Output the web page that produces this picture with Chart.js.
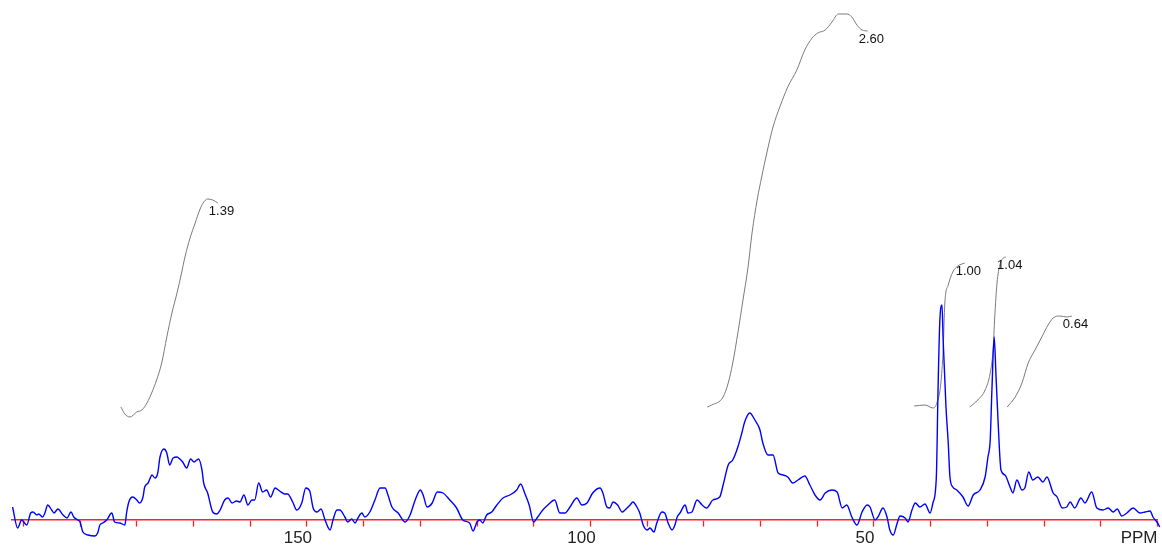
<!DOCTYPE html>
<html>
<head>
<meta charset="utf-8">
<script src="https://cdn.jsdelivr.net/npm/chart.js@4.4.1/dist/chart.umd.min.js"></script>
<style>
  html, body { margin: 0; padding: 0; background: #fff; }
  #wrap { width: 1162px; height: 551px; }
</style>
</head>
<body>
<div id="wrap"><canvas id="nmr" width="1162" height="551"></canvas></div>
<script>
// spectrum (ppm / intensity, baseline = 0)
var specPpm = [201.9,201.0,200.3,199.4,198.7,198.3,197.6,197.3,196.6,196.2,195.7,195.0,194.6,193.9,193.0,192.3,191.6,191.1,190.4,190.0,
  189.5,188.6,187.4,186.9,186.5,186.0,185.3,184.4,183.9,183.0,182.1,181.8,181.4,180.7,180.0,179.5,178.9,178.6,178.0,177.3,
  176.8,176.3,175.9,175.2,174.7,174.2,173.6,172.9,172.4,171.9,171.2,170.5,169.9,169.4,169.1,168.5,168.2,167.5,166.6,165.9,
  165.3,164.5,163.9,163.2,162.4,161.8,161.1,160.4,159.7,159.2,158.5,157.8,157.1,156.4,155.6,154.8,153.9,153.4,152.5,151.8,
  150.9,150.2,149.5,148.9,148.2,147.5,146.8,146.3,145.9,145.4,144.7,144.2,143.3,142.8,142.1,141.5,141.0,140.3,139.8,138.9,
  138.0,137.1,136.2,135.7,135.0,133.9,132.7,131.8,130.9,130.0,129.5,128.8,127.9,127.0,126.0,124.8,123.6,122.5,121.3,120.7,
  120.0,119.5,119.0,118.3,117.4,116.5,115.4,114.2,113.0,112.3,111.6,110.8,110.0,109.3,108.4,107.5,106.3,105.4,104.5,103.6,
  102.4,101.5,100.6,99.6,98.3,97.8,97.1,96.6,96.0,95.2,94.4,93.9,93.0,92.5,91.8,91.3,90.7,90.0,89.5,88.8,
  88.3,87.4,86.9,86.3,85.6,85.1,84.7,84.2,83.3,82.8,82.1,81.2,80.3,79.5,78.4,77.2,76.6,75.7,74.9,74.0,
  73.3,72.8,71.9,71.0,70.1,69.6,68.7,67.8,66.9,66.0,65.2,64.3,63.4,62.2,61.3,60.4,59.5,58.6,57.4,56.5,
  55.6,54.8,53.9,53.0,52.1,51.2,50.7,49.8,49.3,48.4,47.7,47.2,46.6,45.9,45.4,44.5,44.0,43.3,42.7,41.9,
  41.0,40.1,39.6,39.0,38.7,38.4,38.0,37.8,37.3,36.9,36.6,36.1,35.4,34.3,33.4,32.5,31.3,30.4,29.9,29.5,
  29.2,28.8,28.5,28.1,27.6,26.9,26.0,25.5,24.8,23.9,23.4,22.7,22.0,21.1,20.2,19.5,18.4,17.7,16.8,16.0,
  15.4,14.6,13.5,12.8,11.6,10.7,9.6,8.7,7.8,7.1,6.3,5.4,4.3,3.1,2.2,1.3,0.8,0.1,-0.4];
var specInt = [13,-8,0,-5,7,8,5,6,3,7,15,10,7,11,5,2,8,3,0,-2,
  -12,-15,-16,-13,-5,-3,0,7,-2,-3,-5,7,18,23,20,17,23,33,37,45,
  42,47,63,71,67,55,62,63,61,58,52,61,58,60,61,50,37,27,8,6,
  10,20,22,17,19,18,25,15,20,20,37,28,30,23,32,29,26,26,18,10,
  17,32,29,12,8,11,0,-7,-10,0,10,10,3,-2,1,-3,2,7,3,8,
  20,32,32,25,13,7,-2,5,20,30,25,13,17,28,27,20,12,0,-3,-11,
  -2,0,-3,5,8,15,22,25,30,36,27,15,-2,3,10,15,20,7,7,13,
  22,15,17,27,32,27,13,12,18,15,8,10,15,18,13,7,-5,-10,-8,-12,
  -3,8,7,-3,-10,-5,3,7,15,7,8,20,15,12,20,23,35,55,60,73,
  87,98,107,100,90,77,65,65,47,45,43,37,40,44,35,25,20,27,30,28,
  12,15,3,-5,8,15,13,0,3,12,3,-10,-15,-3,4,2,-2,10,17,13,
  16,7,17,43,130,197,215,180,113,77,43,33,30,23,14,25,30,43,63,80,
  130,183,147,97,50,45,33,27,40,30,32,48,40,43,38,43,27,23,12,13,
  18,12,22,17,28,12,10,12,8,11,4,7,12,7,8,9,3,-2,-7];

// integral traces
var int1Ppm = [182.8,182.1,181.2,180.0,179.1,178.2,177.3,176.5,175.6,174.7,173.8,172.9,172.1,171.5,170.6,169.7,168.9,168.3,167.5,166.6,165.7];
var int1Val = [113,106,103,108,110,117,128,140,157,183,207,227,247,263,282,297,310,317,321,320,317];
var int2Ppm = [79.4,78.6,76.6,75.7,74.9,74.0,73.1,72.2,71.5,70.6,69.8,68.9,67.8,66.6,65.2,63.6,62.2,60.9,59.9,58.6,57.4,56.3,54.8,53.9,53.0,52.1,51.1];
var int2Val = [113,115,123,137,157,187,220,253,287,320,343,367,393,413,433,450,470,482,487,490,498,506,506,503,495,490,489];
var int3Ppm = [42.9,41.0,39.6,38.9,38.2,37.8,37.5,36.9,36.1,35.2,34.0];
var int3Val = [114,115,112,117,137,170,217,235,248,254,257];
var int4Ppm = [33.1,31.7,30.4,29.5,29.0,28.7,28.3,27.8,27.2,26.7];
var int4Val = [113,120,130,147,170,203,237,255,262,263];
var int5Ppm = [26.5,25.1,23.9,22.8,21.6,20.4,19.3,18.4,17.2,16.0,15.1];
var int5Val = [113,123,137,157,170,183,195,202,204,203,204];
var integralLabels = ['1.39','2.60','1.00','1.04','0.64'];

// axis
var tickValues = [0,10,20,30,40,50,60,70,80,90,100,110,120,130,140,150,160,170,180,190,200];
var labeledTicks = [50,100,150];
var axisUnit = 'PPM';

function toPoints(xs, ys){
	var pts = [];
	for(let i=0;i<xs.length;i++){
		pts.push({x: xs[i], y: ys[i]});
	}
	return pts;
}

function integralSet(xs, ys, label){
	return {
		data: toPoints(xs, ys),
		borderColor: '#7a7a7a',
		borderWidth: 1,
		pointRadius: 0,
		cubicInterpolationMode: 'monotone',
		integralLabel: label
	};
}

const labelPlugin = {
	id: 'nmrLabels',
	afterDatasetsDraw(chart){
		const ctx = chart.ctx;
		ctx.save();
		ctx.fillStyle = '#111';
		ctx.textBaseline = 'middle';
		ctx.textAlign = 'left';
		ctx.font = '13px "Liberation Sans", Arial, sans-serif';
		chart.data.datasets.forEach(function(ds, i){
			if(!ds.integralLabel) return;
			const pts = chart.getDatasetMeta(i).data;
			const last = pts[pts.length-1];
			ctx.fillText(ds.integralLabel, last.x - 9, last.y + 8.5);
		});
		// unit at the end of the axis
		const xs = chart.scales.x;
		const y0 = chart.scales.y.getPixelForValue(0);
		ctx.font = '17px "Liberation Sans", Arial, sans-serif';
		ctx.textAlign = 'right';
		ctx.fillStyle = '#222';
		ctx.fillText(axisUnit, xs.right, y0 + 18);
		ctx.restore();
	}
};

var chart = new Chart(document.getElementById('nmr'), {
	type: 'line',
	data: {
		datasets: [{
			data: toPoints(specPpm, specInt),
			borderColor: '#0000ff',
			borderWidth: 1.4,
			pointRadius: 0,
			cubicInterpolationMode: 'monotone',
			clip: false
		},
		integralSet(int1Ppm, int1Val, integralLabels[0]),
		integralSet(int2Ppm, int2Val, integralLabels[1]),
		integralSet(int3Ppm, int3Val, integralLabels[2]),
		integralSet(int4Ppm, int4Val, integralLabels[3]),
		integralSet(int5Ppm, int5Val, integralLabels[4])]
	},
	options: {
		responsive: false,
		animation: false,
		layout: { padding: { left: 12, right: 4.5, top: 0, bottom: 0 } },
		plugins: { legend: { display: false }, tooltip: { enabled: false } },
		scales: {
			x: {
				type: 'linear',
				reverse: true,
				min: 0,
				max: 202,
				position: { y: 0 },
				border: { color: '#ff2020', width: 1.6 },
				grid: { drawOnChartArea: false, tickLength: 6, tickColor: '#ff2020', tickWidth: 1.3 },
				afterBuildTicks: function(scale){
					scale.ticks = tickValues.map(v => ({ value: v }));
				},
				ticks: {
					autoSkip: false,
					maxRotation: 0,
					padding: 2,
					labelOffset: -9,
					color: '#222',
					font: { family: '"Liberation Sans", Arial, sans-serif', size: 17 },
					callback: function(v){ return labeledTicks.includes(v) ? String(v) : ''; }
				}
			},
			y: {
				display: false,
				min: -31,
				max: 520
			}
		}
	},
	plugins: [labelPlugin]
});
</script>
</body>
</html>
